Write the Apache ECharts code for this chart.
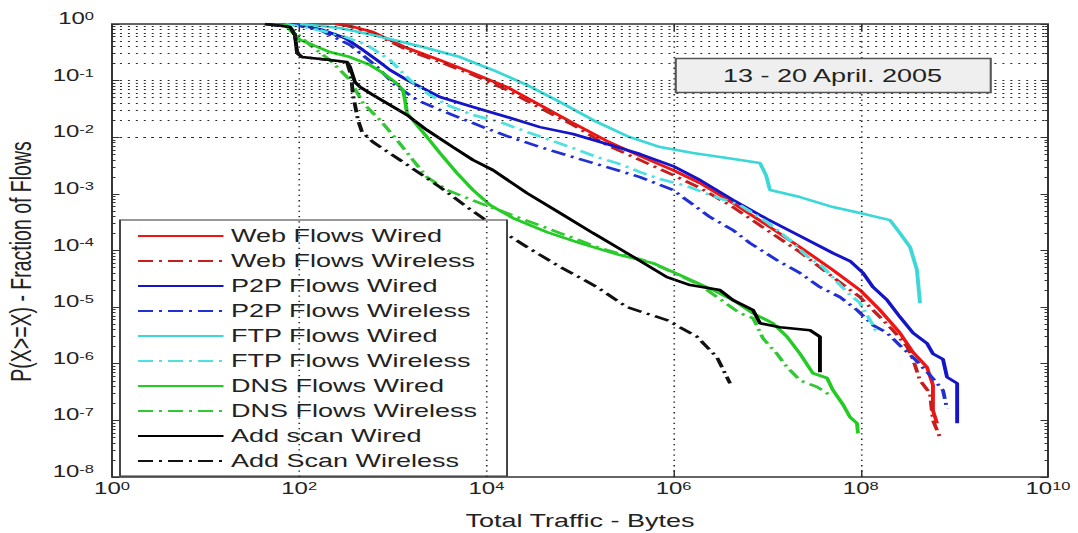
<!DOCTYPE html>
<html><head><meta charset="utf-8">
<script src="https://cdn.jsdelivr.net/npm/echarts@6/dist/echarts.min.js"></script>
<style>
html,body{margin:0;padding:0;background:#fff;overflow:hidden;width:1078px;height:533px}
#wrap{position:absolute;left:0;top:0;width:718.667px;height:533px;transform:scaleX(1.5);transform-origin:0 0}
#chart{width:718.667px;height:533px}
</style></head>
<body><div id="wrap"><div id="chart"></div></div>
<script>
// ---- data ----
const seriesNames = ['Web Flows Wired','Web Flows Wireless','P2P Flows Wired','P2P Flows Wireless','FTP Flows Wired','FTP Flows Wireless','DNS Flows Wired','DNS Flows Wireless','Add scan Wired','Add Scan Wireless'];
const xTicks = [1,1e2,1e4,1e6,1e8,1e10];
const yTicks = [1e-8,1e-7,1e-6,1e-5,1e-4,1e-3,1e-2,1e-1,1];
const annotation = '13 - 20 April. 2005';

const webWired = [[241,1],[349,0.922],[614,0.722],[1419,0.377],[3192,0.231],[7194,0.136],[16600,0.0771],[37400,0.0371],[84100,0.0178],[194100,0.00857],[437500,0.00466],[985800,0.00263],[1.92e6,0.00155],[4.31e6,6.87e-4],[9.95e6,2.81e-4],[2.24e7,1.15e-4],[5.05e7,4.51e-5],[9.8e7,2.0e-5],[1.6e8,8.9e-6],[2.62e8,3.5e-6],[3.61e8,1.6e-6],[5.09e8,8.7e-7],[5.9e8,4.2e-7],[5.9e8,1.5e-7],[6.52e8,8.9e-8]];
const webWireless = [[273,1],[614,0.694],[1419,0.347],[3192,0.213],[7194,0.126],[16600,0.0682],[37400,0.0328],[84100,0.0164],[194100,0.00728],[437500,0.00396],[985800,0.00215],[1.92e6,0.00127],[4.31e6,5.85e-4],[9.95e6,2.29e-4],[2.24e7,9.37e-5],[5.05e7,3.39e-5],[9.8e7,1.5e-5],[1.6e8,6.7e-6],[2.21e8,3.9e-6],[3.12e8,2.0e-6],[3.61e8,1.2e-6],[4.29e8,5.1e-7],[5.48e8,3.0e-7],[5.9e8,1.0e-7],[7.02e8,5.0e-8]];
const p2pWired = [[70,1],[102,0.96],[180,0.783],[308,0.566],[481,0.347],[678,0.231],[933,0.154],[1419,0.1025],[3192,0.0513],[7194,0.0342],[16600,0.0228],[37400,0.0151],[84100,0.0114],[194100,0.00759],[437500,0.00505],[985800,0.0031],[1.92e6,0.00175],[4.31e6,7.77e-4],[9.95e6,3.59e-4],[2.24e7,1.8e-4],[5.05e7,8.99e-5],[7.67e7,6.5e-5],[1.06e8,3.99e-5],[1.35e8,2.26e-5],[1.91e8,1.33e-5],[2.62e8,6.7e-6],[3.61e8,3.5e-6],[5.09e8,2.3e-6],[5.9e8,1.5e-6],[7.55e8,1.2e-6],[8.34e8,5.8e-7],[1.07e9,4.5e-7],[1.07e9,8.9e-8]];
const p2pWireless = [[80,1],[167,0.783],[349,0.426],[646,0.189],[1056,0.0836],[1814,0.0454],[3192,0.0303],[9204,0.0151],[16600,0.0105],[37400,0.00671],[84100,0.00447],[194100,0.00297],[437500,0.00198],[985800,0.00117],[2.45e6,3.89e-4],[4.31e6,2.29e-4],[6.55e6,1.35e-4],[1.27e7,6.76e-5],[2.24e7,3.99e-5],[3.66e7,2.26e-5],[6.0e7,1.5e-5],[9.1e7,8.9e-6],[1.35e8,4.8e-6],[1.91e8,3.5e-6],[2.62e8,2.1e-6],[3.79e8,1.2e-6],[5.48e8,6.3e-7],[7.55e8,3.4e-7],[8.34e8,1.6e-7]];
const ftpWired = [[102,1],[273,0.85],[614,0.639],[2102,0.393],[5224,0.261],[11770,0.154],[27160,0.0836],[61100,0.0419],[137700,0.0201],[317700,0.0105],[716000,0.00671],[1.61e6,0.00526],[3.72e6,0.00429],[8.38e6,0.0035],[9.71e6,0.00215],[1.07e7,0.00117],[2.24e7,8.78e-4],[5.05e7,5.85e-4],[9.8e7,4.58e-4],[2.05e8,3.44e-4],[2.62e8,2.03e-4],[3.36e8,1.15e-4],[3.98e8,4.51e-5],[4.29e8,1.18e-5]];
const ftpWireless = [[70,1],[130,0.85],[273,0.639],[530,0.426],[933,0.231],[1527,0.1025],[2496,0.0557],[3793,0.0371],[7194,0.0247],[13960,0.0186],[27160,0.0124],[51500,0.00857],[84100,0.00644],[152000,0.00447],[248400,0.0035],[437500,0.00243],[716000,0.00183],[1.39e6,0.00137],[2.64e6,9.15e-4],[5.12e6,6.34e-4],[9.95e6,3.18e-4],[1.75e7,1.53e-4],[2.66e7,7.96e-5],[3.95e7,5.09e-5],[7.13e7,1.84e-5],[9.8e7,1.18e-5],[1.35e8,4.8e-6],[1.49e8,3.5e-6]];
const dnsWired = [[70,1],[90,0.639],[102,0.522],[140,0.426],[213,0.32],[349,0.261],[570,0.189],[786,0.136],[1056,0.0945],[1285,0.0682],[1350,0.0454],[1419,0.0268],[1814,0.0164],[2317,0.0101],[3192,0.00526],[4853,0.00233],[7194,0.00117],[10920,6.34e-4],[19230,3.74e-4],[44400,2.11e-4],[100000,1.35e-4],[267400,8.3e-5],[602600,5.99e-5],[1.17e6,3.68e-5],[2.64e6,2.0e-5],[4.31e6,1.33e-5],[7.05e6,7.8e-6],[1.15e7,5.2e-6],[1.63e7,3.0e-6],[2.24e7,1.5e-6],[3.08e7,6.8e-7],[4.36e7,5.6e-7],[5.05e7,3.4e-7],[6.46e7,1.9e-7],[7.67e7,1.14e-7],[9.1e7,8.9e-8],[9.33e7,5.9e-8]];
const dnsWireless = [[70,1],[86,0.783],[130,0.426],[213,0.231],[349,0.1025],[481,0.0402],[730,0.0201],[1109,0.00893],[1644,0.00396],[2317,0.00198],[3793,0.00117],[8547,6.87e-4],[22860,3.74e-4],[61100,2.03e-4],[163700,1.1e-4],[559800,6.24e-5],[1.92e6,2.45e-5],[5.12e6,7.8e-6],[7.05e6,6.4e-6],[9.02e6,2.8e-6],[1.27e7,1.5e-6],[1.63e7,8.7e-7],[2.24e7,5.1e-7],[3.4e7,3.9e-7],[4.69e7,2.8e-7]];
const scanWired = [[43,1],[80,0.885],[90,0.639],[95,0.308],[107,0.261],[213,0.231],[324,0.213],[349,0.174],[394,0.0945],[447,0.0771],[614,0.0557],[933,0.0371],[1419,0.0247],[2317,0.0134],[4395,0.00671],[7194,0.00396],[11770,0.00263],[27160,0.00103],[61100,4.58e-4],[137700,2.03e-4],[317700,8.99e-5],[849500,3.39e-5],[1.5e6,2.45e-5],[3.13e6,2.0e-5],[4.31e6,1.33e-5],[7.05e6,8.9e-6],[8.38e6,5.2e-6],[1.37e7,4.4e-6],[2.87e7,3.9e-6],[3.66e7,3.0e-6],[3.66e7,7.1e-7]];
const scanWireless = [[43,1],[80,0.885],[90,0.639],[95,0.308],[107,0.261],[213,0.231],[324,0.213],[357,0.126],[376,0.0557],[425,0.0201],[469,0.0124],[614,0.00823],[1194,0.00396],[3192,0.00132],[6209,5.85e-4],[12980,2.49e-4],[27160,1.15e-4],[56800,5.52e-5],[152000,2.26e-5],[317700,1.0e-5],[849500,5.9e-6],[1.78e6,3.0e-6],[2.91e6,1.3e-6],[4.01e6,4.5e-7]];

// ---- styling ----
const FONT = 'Liberation Sans, Arial, Helvetica, sans-serif';
const TXT = '#222';
const DASHDOT = [10, 4, 2, 4];
const seriesData = [webWired, webWireless, p2pWired, p2pWireless, ftpWired, ftpWireless, dnsWired, dnsWireless, scanWired, scanWireless];
const seriesColors = ['#f01414','#c41e1e','#1414c8','#2030d4','#3cd8d8','#4fe0e0','#22cc22','#33c833','#000000','#111111'];

// dotted grid lines at every 1..9 x 10^n on the y axis and every major x tick
const gridLines = [];
for (let n = -8; n < 0; n++) for (let k = 1; k <= 9; k++) gridLines.push({yAxis: k * Math.pow(10, n)});
[1e2,1e4,1e6,1e8].forEach(v => gridLines.push({xAxis: v}));
const minorTicks = [];
for (let n = -8; n < 0; n++) for (let k = 2; k <= 9; k++) {
  const v = k * Math.pow(10, n);
  minorTicks.push([{coord:[1, v]}, {coord:[1.09, v]}]);
  minorTicks.push([{coord:[1e10/1.09, v]}, {coord:[1e10, v]}]);
}

function expLabel(v) { return '{b|10}{e|' + Math.round(Math.log10(v)) + '}'; }
const rich = {
  b: {fontSize: 16, lineHeight: 16, fontFamily: FONT, color: TXT, verticalAlign: 'bottom'},
  e: {fontSize: 11, lineHeight: 11, padding: [0,0,12,0], fontFamily: FONT, color: TXT, verticalAlign: 'top'}
};

const series = seriesNames.map((name, i) => ({
  name, type: 'line', data: seriesData[i], symbol: 'none', z: 3,
  lineStyle: {color: seriesColors[i], width: 2.6, type: i % 2 ? DASHDOT : 'solid'},
  itemStyle: {color: seriesColors[i]}
}));
series.unshift({
  name: 'grid', type: 'line', data: [], silent: true, z: 1,
  markLine: {silent: true, symbol: ['none','none'], label: {show: false}, animation: false,
    lineStyle: {color: '#2a2a2a', width: 1.1, type: [1.3, 4]}, data: gridLines}
});
series.unshift({
  name: 'ticks', type: 'line', data: [], silent: true, z: 1,
  markLine: {silent: true, symbol: ['none','none'], label: {show: false}, animation: false,
    lineStyle: {color: '#333', width: 1, type: 'solid'}, data: minorTicks}
});

const xBase = {
  type: 'log', logBase: 10, min: 1, max: 1e10, gridIndex: 0,
  axisLine: {show: false}, splitLine: {show: false}, minorTick: {show: false},
  axisTick: {show: true, inside: true, length: 7, lineStyle: {color: '#333'}, customValues: xTicks}
};
const yBase = {
  type: 'log', logBase: 10, min: 1e-8, max: 1, gridIndex: 0,
  axisLine: {show: false}, splitLine: {show: false}, minorTick: {show: false},
  axisTick: {show: true, inside: true, length: 5, lineStyle: {color: '#333'}, customValues: yTicks}
};

const option = {
  animation: false,
  backgroundColor: '#fff',
  textStyle: {fontFamily: FONT},
  grid: {left: 74.667, right: 20, top: 24, bottom: 56, show: true, backgroundColor: '#fff',
    borderColor: '#333', borderWidth: 1.3, outerBoundsMode: 'none', containLabel: false},
  title: {text: annotation, left: 450, top: 58, padding: [7, 32], backgroundColor: '#efefef',
    borderColor: '#555', borderWidth: 1.4,
    textStyle: {fontFamily: FONT, fontSize: 18, fontWeight: 'normal', color: TXT, lineHeight: 21}},
  legend: {
    data: seriesNames, orient: 'vertical', left: 80, top: 220,
    backgroundColor: '#fff', borderColor: '#333', borderWidth: 1.2,
    padding: [7, 20, 6, 11], itemGap: 7, itemWidth: 57, itemHeight: 14,
    itemStyle: {opacity: 0},
    textStyle: {fontFamily: FONT, fontSize: 18, lineHeight: 18, color: TXT},
    selectedMode: false
  },
  xAxis: [
    Object.assign({}, xBase, {position: 'bottom',
      name: 'Total Traffic - Bytes', nameLocation: 'middle', nameGap: 35,
      nameTextStyle: {fontFamily: FONT, fontSize: 18, color: TXT},
      axisLabel: {show: true, margin: 4, formatter: expLabel, rich, customValues: xTicks, hideOverlap: false}}),
    Object.assign({}, xBase, {position: 'top', axisLabel: {show: false}})
  ],
  yAxis: [
    Object.assign({}, yBase, {position: 'left',
      name: 'P(X>=X) - Fraction of Flows', nameLocation: 'middle', nameGap: 50,
      nameTextStyle: {fontFamily: FONT, fontSize: 19.5, color: TXT, padding: [0, 22, 0, 0]},
      axisLabel: {show: true, margin: 12, formatter: expLabel, rich, padding: [0,0,11,0], customValues: yTicks, hideOverlap: false}}),
    Object.assign({}, yBase, {position: 'right', axisLabel: {show: false}})
  ],
  series
};
const chart = echarts.init(document.getElementById('chart'), null, {renderer: 'svg', width: 718.667, height: 533});
chart.setOption(option);
</script>
</body></html>
